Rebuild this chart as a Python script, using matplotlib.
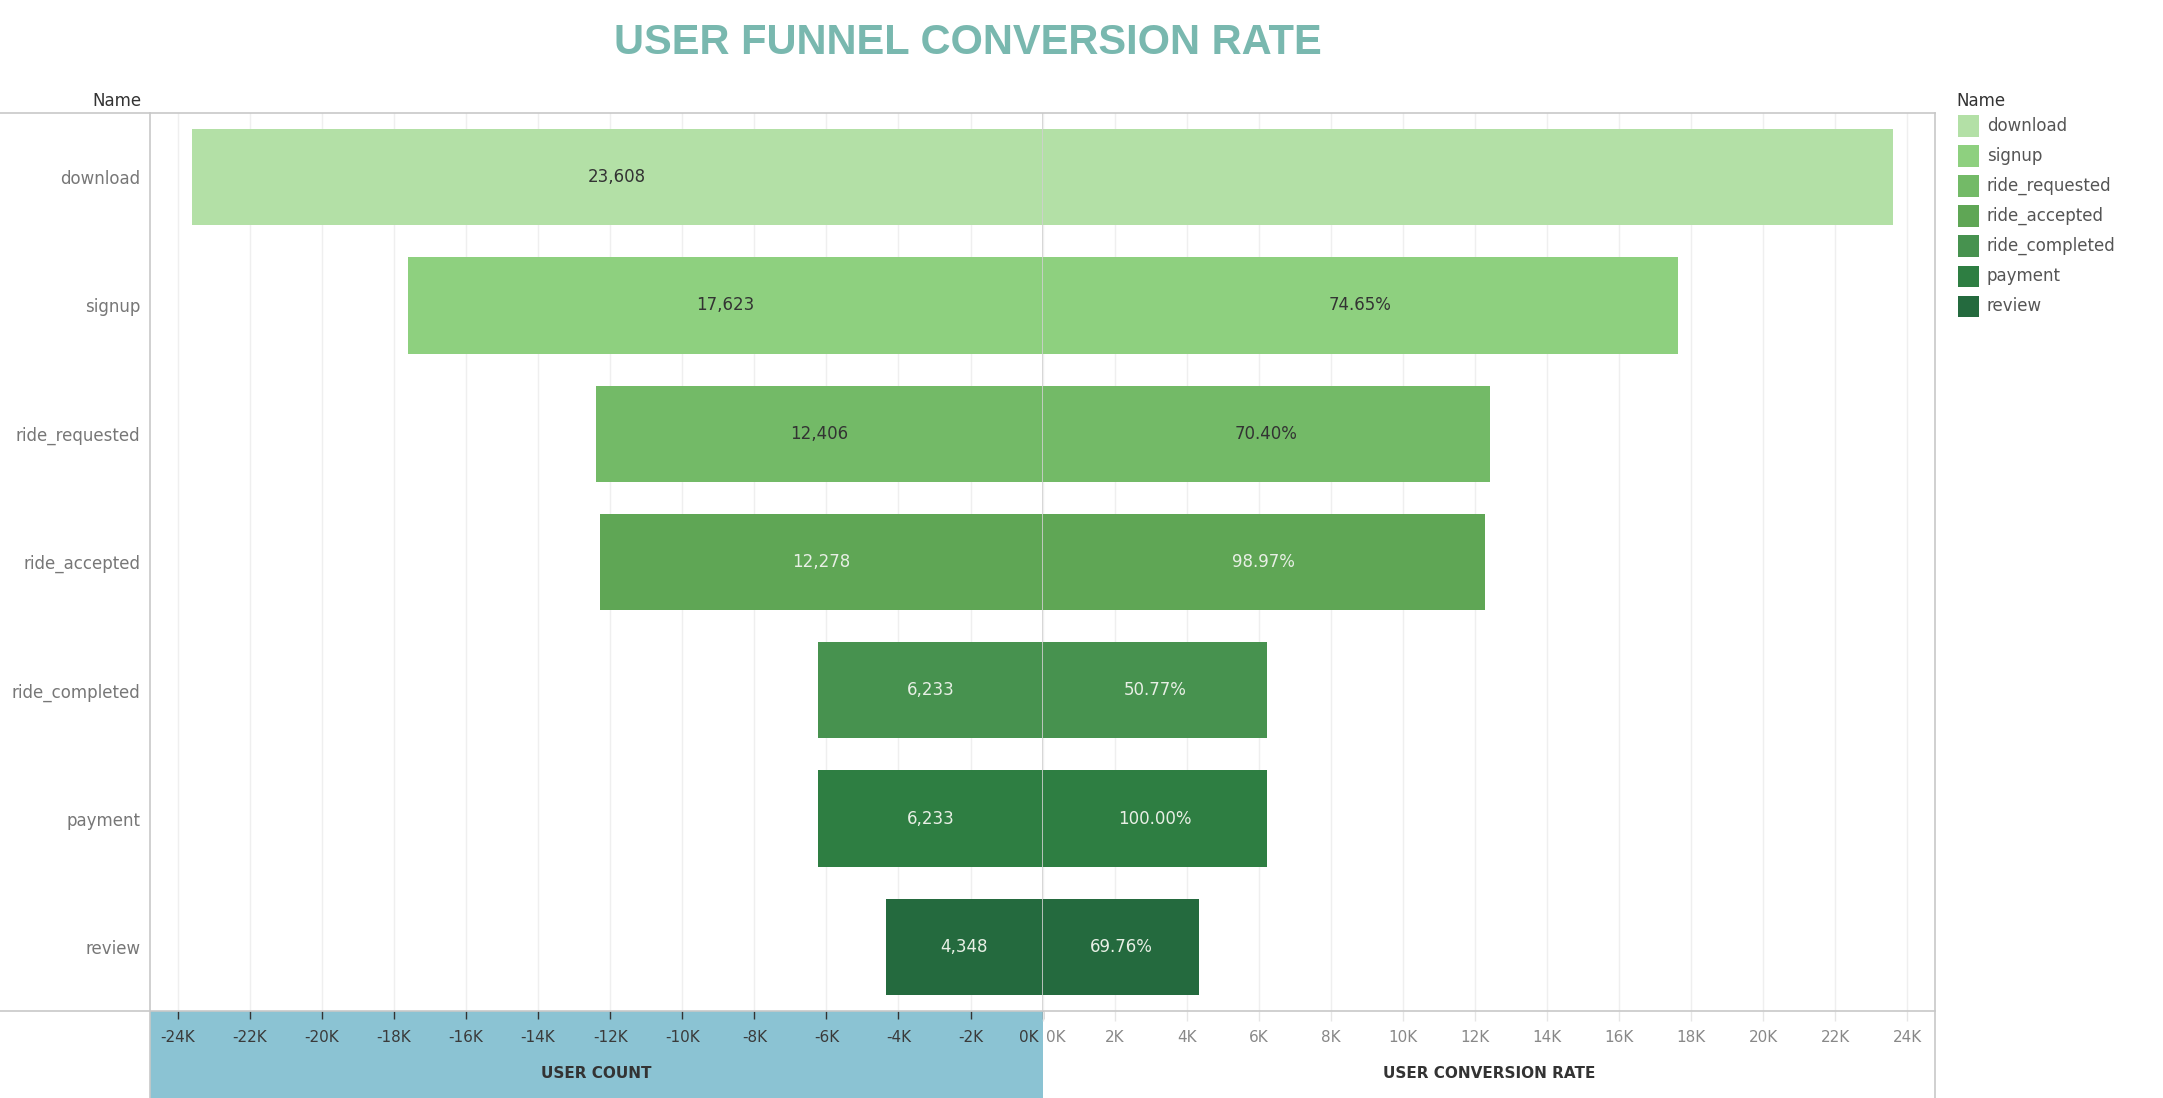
import matplotlib
matplotlib.use("Agg")
import matplotlib.pyplot as plt
import matplotlib.patches as patches
from matplotlib.lines import Line2D
from matplotlib.transforms import ScaledTranslation
import numpy as np

# --- data ---
stages = ["download", "signup", "ride_requested", "ride_accepted",
          "ride_completed", "payment", "review"]
user_counts = [23608, 17623, 12406, 12278, 6233, 6233, 4348]
conversion_rates = [None, 74.65, 70.40, 98.97, 50.77, 100.00, 69.76]
stage_colors = ["#b3e0a6", "#8ed07f", "#73ba67", "#5fa655",
                "#47924f", "#2e7e42", "#246a3e"]
left_ticks = list(range(-24, 1, 2))
right_ticks = list(range(0, 25, 2))

W, H = 2163, 1098
fig = plt.figure(figsize=(W / 100, H / 100), dpi=100)
fig.patch.set_facecolor("white")


def px_axes(x0, y0, x1, y1):
    return fig.add_axes([x0 / W, 1 - y1 / H, (x1 - x0) / W, (y1 - y0) / H])


def fig_line(xs, ys, color="#c8c8c8", lw=1.2):
    fig.add_artist(Line2D([x / W for x in xs], [1 - y / H for y in ys],
                          transform=fig.transFigure, color=color, lw=lw, zorder=5))


# layout in pixels
PL, PC, PR = 150, 1042.6, 1935
PT, PB = 113, 1011
XMAX = 24.77

# blue axis strip under the left pane
fig.add_artist(patches.Rectangle((PL / W, 0), (PC - PL) / W, (H - PB) / H,
                                 transform=fig.transFigure, facecolor="#8bc3d3",
                                 edgecolor="none", zorder=0))

ax_l = px_axes(PL, PT, PC, PB)
ax_r = px_axes(PC, PT, PR, PB)

y = np.arange(len(stages))
counts_k = np.array(user_counts) / 1000.0

for ax in (ax_l, ax_r):
    ax.set_ylim(len(stages) - 0.5, -0.5)
    for s in ax.spines.values():
        s.set_visible(False)
    ax.set_facecolor("none")
    ax.grid(axis="x", color="#efefef", lw=1, zorder=0)
    ax.set_axisbelow(True)

ax_l.barh(y, -counts_k, height=0.75, color=stage_colors, zorder=2)
ax_r.barh(y, counts_k, height=0.75, color=stage_colors, zorder=2)
ax_l.set_xlim(-XMAX, 0)
ax_r.set_xlim(0, XMAX)

for i, (c, rate) in enumerate(zip(user_counts, conversion_rates)):
    tc = "#333333" if i < 3 else "#e8efe5"
    ax_l.text(-c / 2000.0, i, f"{c:,}", ha="center", va="center",
              fontsize=12, color=tc, zorder=3)
    if rate is not None:
        ax_r.text(c / 2000.0, i, f"{rate:.2f}%", ha="center", va="center",
                  fontsize=12, color=tc, zorder=3)

# centre divider
ax_l.axvline(0, color="#d0d0d0", lw=1.2, zorder=4)

# y labels
ax_l.set_yticks(y)
ax_l.set_yticklabels(stages, fontsize=12, color="#777777")
ax_l.tick_params(axis="y", length=0, pad=7)
ax_r.set_yticks([])

# x ticks
ax_l.set_xticks(left_ticks)
ax_l.set_xticklabels([f"{t}K" for t in left_ticks], fontsize=11, color="#3a3a3a")
ax_l.tick_params(axis="x", length=6, width=1, color="#333333", pad=8)
ax_r.set_xticks(right_ticks)
ax_r.set_xticklabels([f"{t}K" for t in right_ticks], fontsize=11, color="#888888")
ax_r.tick_params(axis="x", length=7, width=1, color="#e6e6e6", pad=7)

lz = ax_l.get_xticklabels()[-1]
lz.set_horizontalalignment("right")
lz.set_transform(lz.get_transform() + ScaledTranslation(-4 / 100, 0, fig.dpi_scale_trans))
rz = ax_r.get_xticklabels()[0]
rz.set_horizontalalignment("left")
rz.set_transform(rz.get_transform() + ScaledTranslation(3 / 100, 0, fig.dpi_scale_trans))

# axis titles
fig.text((PL + PC) / 2 / W, 1 - 1073 / H, "USER COUNT", ha="center", va="center",
         fontsize=11, fontweight="bold", color="#333333")
fig.text((PC + PR) / 2 / W, 1 - 1073 / H, "USER CONVERSION RATE", ha="center",
         va="center", fontsize=11, fontweight="bold", color="#333333")

# borders
fig_line([0, PR], [PT, PT])
fig_line([0, PR], [PB, PB])
fig_line([PL, PL], [PT, H])
fig_line([PR, PR], [PT, H])

# headers
fig.text(142 / W, 1 - 101 / H, "Name", ha="right", va="center", fontsize=12,
         color="#333333")
fig.text(1956 / W, 1 - 101 / H, "Name", ha="left", va="center", fontsize=12,
         color="#333333")

# legend
for i, (name, col) in enumerate(zip(stages, stage_colors)):
    cy = 126 + 30 * i
    fig.add_artist(patches.Rectangle((1958 / W, 1 - (cy + 10.5) / H), 21 / W, 21 / H,
                                     transform=fig.transFigure, facecolor=col,
                                     edgecolor="none"))
    fig.text(1987 / W, 1 - cy / H, name, ha="left", va="center", fontsize=12,
             color="#555555")

# title
fig.text(968 / W, 1 - 43 / H, "USER FUNNEL CONVERSION RATE", ha="center", va="center",
         fontsize=30, fontweight="bold", color="#79b8af",
         family=["Liberation Sans", "DejaVu Sans"])

fig.savefig("out.png", dpi=100, facecolor="white")
